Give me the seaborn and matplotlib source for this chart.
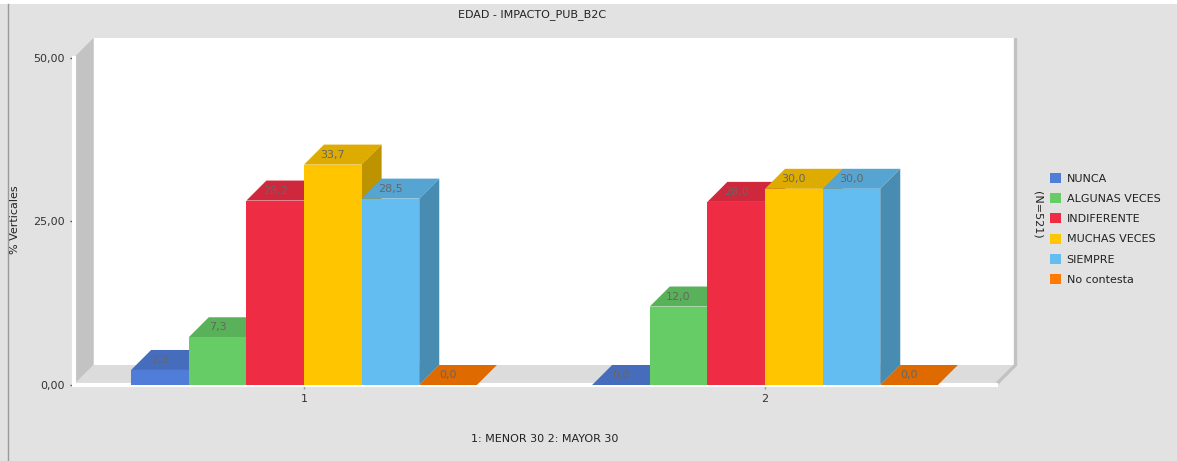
import matplotlib
matplotlib.use("Agg")
import matplotlib.pyplot as plt
import seaborn as sns
import pandas as pd
import numpy as np
from matplotlib.patches import Polygon, Patch, Rectangle
from matplotlib.lines import Line2D
from matplotlib.transforms import IdentityTransform
from matplotlib.colors import to_rgb

# ---- data -------------------------------------------------------------
groups = ["1", "2"]
respuestas = ["NUNCA", "ALGUNAS VECES", "INDIFERENTE",
              "MUCHAS VECES", "SIEMPRE", "No contesta"]
vals_g1 = [2.3, 7.3, 28.2, 33.7, 28.5, 0.0]
vals_g2 = [0.0, 12.0, 28.0, 30.0, 30.0, 0.0]
colors = ["#4f7dd8", "#66cc66", "#ee2d44", "#ffc600", "#63bdf1", "#ff7a00"]
yticks = [0, 25, 50]
ytick_labels = ["0,00", "25,00", "50,00"]
title = "EDAD - IMPACTO_PUB_B2C"
ylabel = "% Verticales"
footer = "1: MENOR 30 2: MAYOR 30"
n_text = "(N=521)"

# ---- figure -----------------------------------------------------------
W, H, DPI = 1177, 461, 100
BG = "#e2e2e2"
D = 20  # depth of the 3D effect, pixels

fig = plt.figure(figsize=(W / DPI, H / DPI), dpi=DPI, facecolor=BG)
ax = fig.add_axes([73.5 / W, (H - 385) / H, 922 / W, 327 / H])
ax.set_facecolor("none")

df = pd.DataFrame({
    "grupo": np.repeat(groups, len(respuestas)),
    "respuesta": respuestas * len(groups),
    "valor": vals_g1 + vals_g2,
})

sns.barplot(data=df, x="grupo", y="valor", hue="respuesta",
            order=groups, hue_order=respuestas,
            palette=dict(zip(respuestas, colors)), saturation=1,
            width=0.75, linewidth=0, errorbar=None, legend=False, ax=ax)

ax.set_xlim(-0.5, 1.5)
ax.set_ylim(0, 50)


def shade(c, f):
    r, g, b = to_rgb(c)
    return (r * f, g * f, b * f)


def add_poly(pts, color, z):
    p = Polygon(pts, closed=True, facecolor=color, edgecolor="none",
                transform=IdentityTransform(), clip_on=False, zorder=z)
    ax.add_artist(p)


# walls and floor of the 3D box
L, B = ax.transAxes.transform((0, 0))
R, T = ax.transAxes.transform((1, 1))
add_poly([(L + D, B + D), (R + D, B + D), (R + D, T + D), (L + D, T + D)],
         "white", 0.5)
add_poly([(L, B), (L + D, B + D), (L + D, T + D), (L, T)], "#c3c3c3", 0.6)
add_poly([(L, B), (R, B), (R + D, B + D), (L + D, B + D)], "#dcdcdc", 0.6)
ax.add_artist(Line2D([R + D, R + D, R], [T + D, B + D, B], color="#c2c2c2",
                     lw=2.4, transform=IdentityTransform(), clip_on=False,
                     zorder=0.7, solid_capstyle="butt"))

# top and side faces for every bar, painted left to right
bars = []
for cont, col in zip(ax.containers, colors):
    for bar in cont:
        bars.append((bar.get_x(), bar, col))
bars.sort(key=lambda t: t[0])

for k, (_, bar, col) in enumerate(bars):
    x0, w, h = bar.get_x(), bar.get_width(), bar.get_height()
    (px0, py0) = ax.transData.transform((x0, 0))
    (px1, py1) = ax.transData.transform((x0 + w, h))
    base = 3 + 0.01 * k
    bar.set_zorder(base + 0.005)
    add_poly([(px0, py1), (px1, py1), (px1 + D, py1 + D), (px0 + D, py1 + D)],
             shade(col, 0.87), base + 0.002)
    if h > 0:
        add_poly([(px1, py0), (px1 + D, py0 + D), (px1 + D, py1 + D), (px1, py1)],
                 shade(col, 0.74), base + 0.002)
    ax.annotate(f"{h:.1f}".replace(".", ","), xy=(x0 + w / 2, h),
                xytext=(0, 10), textcoords="offset pixels",
                ha="center", va="center", fontsize=8, color="#666666",
                zorder=10, annotation_clip=False)

# axes styling
for s in ["top", "right"]:
    ax.spines[s].set_visible(False)
for s in ["left", "bottom"]:
    ax.spines[s].set_color("white")
    ax.spines[s].set_linewidth(3)
    ax.spines[s].set_zorder(2.5)

ax.set_yticks(yticks)
ax.set_yticklabels(ytick_labels)
ax.tick_params(axis="y", length=3, width=1, color="#444444", pad=3.5,
               labelsize=8, labelcolor="#333333")
ax.tick_params(axis="x", length=3, width=1, color="#999999", pad=3.5,
               labelsize=8, labelcolor="#333333")
ax.set_xlabel("")
ax.set_ylabel("")

# texts
fig.text(532 / W, 1 - 15 / H, title, ha="center", va="center",
         fontsize=8, color="#222222")
fig.text(15 / W, 1 - 220 / H, ylabel, rotation=90, ha="center",
         va="center", fontsize=8, color="#222222")
fig.text(545 / W, 1 - 439 / H, footer, ha="center", va="center",
         fontsize=8, color="#222222")
fig.text(1037 / W, 1 - 215 / H, n_text, rotation=-90, ha="center",
         va="center", fontsize=8, color="#222222")

# legend
handles = [Patch(facecolor=c, edgecolor="none", label=r)
           for r, c in zip(respuestas, colors)]
fig.legend(handles=handles, loc="upper left",
           bbox_to_anchor=(1050 / W, 1 - 173 / H), frameon=False,
           fontsize=8, handlelength=1.0, handleheight=1.0,
           handletextpad=0.5, labelspacing=0.85, borderpad=0,
           borderaxespad=0, labelcolor="#222222")

# outer frame
fig.patches.append(Rectangle((0, 1 - 4 / H), 1, 4 / H, transform=fig.transFigure,
                             facecolor="white", edgecolor="none", zorder=0))
fig.lines.append(Line2D([7.5 / W, 7.5 / W], [0, 1 - 4 / H],
                        transform=fig.transFigure, color="#9a9a9a", lw=1))

fig.savefig("out.png", dpi=DPI, facecolor=BG)
